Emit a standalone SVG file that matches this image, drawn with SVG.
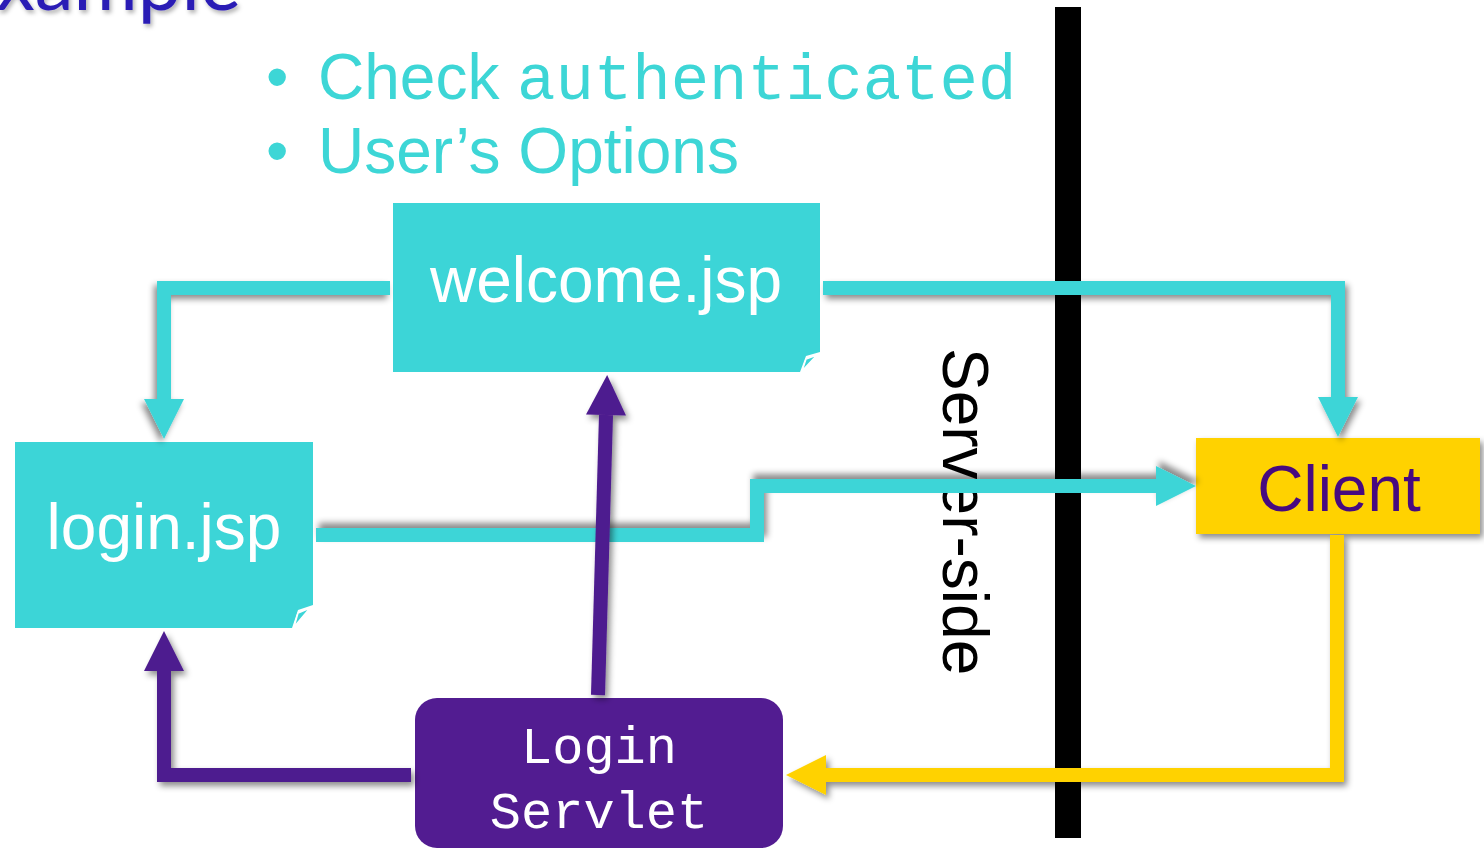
<svg xmlns="http://www.w3.org/2000/svg" width="1484" height="850" viewBox="0 0 1484 850">
  <style>
    .sans { font-family: "Liberation Sans", Arial, sans-serif; }
    .mono { font-family: "Liberation Mono", "Courier New", monospace; }
    .page { fill: #3CD5D7; }
    .label { font-size: 64px; fill: #FFFFFF; }
    .bullet { font-size: 64px; fill: #3DD6D6; }
    .wire { fill: none; stroke-width: 14; stroke-linejoin: miter; stroke-linecap: butt; }
    .teal { stroke: #3CD5D7; }
    .violet { stroke: #4E1A8F; }
    .gold { stroke: #FFD200; }
  </style>
  <defs>
    <!-- shadow filters use a canvas-wide region so marker heads are not clipped -->
    <filter id="shadowDR" filterUnits="userSpaceOnUse" x="-50" y="-50" width="1600" height="950">
      <feDropShadow dx="3" dy="4" stdDeviation="3" flood-color="#000" flood-opacity="0.45"/>
    </filter>
    <filter id="shadowDL" filterUnits="userSpaceOnUse" x="-50" y="-50" width="1600" height="950">
      <feDropShadow dx="-3" dy="4" stdDeviation="3" flood-color="#000" flood-opacity="0.45"/>
    </filter>
    <filter id="shadowUR" filterUnits="userSpaceOnUse" x="-50" y="-50" width="1600" height="950">
      <feDropShadow dx="3" dy="-5" stdDeviation="3" flood-color="#000" flood-opacity="0.45"/>
    </filter>
    <filter id="titleShadow" filterUnits="userSpaceOnUse" x="-50" y="-50" width="500" height="120">
      <feDropShadow dx="2" dy="3" stdDeviation="2" flood-color="#000" flood-opacity="0.3"/>
    </filter>
    <marker id="headTeal" markerUnits="userSpaceOnUse" markerWidth="40" markerHeight="40" refX="0" refY="20" orient="auto" overflow="visible">
      <path d="M0,0 L40,20 L0,40 Z" fill="#3CD5D7"/>
    </marker>
    <marker id="headViolet" markerUnits="userSpaceOnUse" markerWidth="40" markerHeight="40" refX="0" refY="20" orient="auto" overflow="visible">
      <path d="M0,0 L40,20 L0,40 Z" fill="#4E1A8F"/>
    </marker>
    <marker id="headGold" markerUnits="userSpaceOnUse" markerWidth="40" markerHeight="40" refX="0" refY="20" orient="auto" overflow="visible">
      <path d="M0,0 L40,20 L0,40 Z" fill="#FFD200"/>
    </marker>
  </defs>

  <rect width="1484" height="850" fill="#FFFFFF"/>

  <!-- slide title, mostly above the top edge -->
  <text x="-4" y="10" font-family="Lato, 'Open Sans', sans-serif" font-size="78" fill="#2A1DB5" filter="url(#titleShadow)">xample</text>

  <!-- bullet list -->
  <g id="notes">
    <text class="sans bullet" x="266" y="99" font-size="56">•</text>
    <text x="318" y="99" class="bullet"><tspan class="sans">Check </tspan><tspan class="mono" x="517">authenticated</tspan></text>
    <text class="sans bullet" x="266" y="173" font-size="56">•</text>
    <text class="sans bullet" x="318" y="173">User’s Options</text>
  </g>

  <!-- server / client boundary -->
  <g id="boundary">
    <rect x="1055" y="7" width="26" height="831" fill="#000000"/>
    <text class="sans" font-size="64" fill="#000000" transform="translate(943,348) rotate(90)">Server-side</text>
  </g>

  <g id="welcome">
    <path class="page" d="M393,203 H820 V352 L806,356 L800,372 H393 Z"/>
    <path d="M802,371 L806,359 L817,355 Z" fill="#3CD5D7" stroke="#FFFFFF" stroke-width="1.5"/>
    <text class="sans label" x="606" y="302" text-anchor="middle">welcome.jsp</text>
  </g>

  <g id="login">
    <path class="page" d="M15,442 H313 V605 L298,610 L292,628 H15 Z"/>
    <path d="M294,627 L298,613 L310,608 Z" fill="#3CD5D7" stroke="#FFFFFF" stroke-width="1.5"/>
    <text class="sans label" x="164" y="549" text-anchor="middle">login.jsp</text>
  </g>

  <g id="client">
    <rect x="1196" y="438" width="284" height="96" fill="#FFD200" filter="url(#shadowDR)"/>
    <text class="sans" x="1339" y="511" font-size="64" fill="#470A80" text-anchor="middle">Client</text>
  </g>

  <g id="servlet">
    <rect x="415" y="698" width="368" height="150" rx="22" ry="22" fill="#521C91"/>
    <text class="mono" x="599" y="763" font-size="52" fill="#FFFFFF" text-anchor="middle">Login</text>
    <text class="mono" x="599" y="828" font-size="52" fill="#FFFFFF" text-anchor="middle">Servlet</text>
  </g>

  <g id="connectors">
    <path class="wire teal" d="M390,288 H164 V399" marker-end="url(#headTeal)" filter="url(#shadowDL)"/>
    <path class="wire teal" d="M823,288 H1338 V397" marker-end="url(#headTeal)" filter="url(#shadowDR)"/>
    <path class="wire teal" d="M316,535 H757 V486 H1156" marker-end="url(#headTeal)" filter="url(#shadowUR)"/>
    <path class="wire gold" d="M1337,535 V775 H826" marker-end="url(#headGold)" filter="url(#shadowDR)"/>
    <path class="wire violet" d="M411,775 H164 V671" marker-end="url(#headViolet)" filter="url(#shadowDR)"/>
    <path class="wire violet" d="M598,695 L606,415" stroke-width="12" marker-end="url(#headViolet)" filter="url(#shadowDR)"/>
  </g>
</svg>
